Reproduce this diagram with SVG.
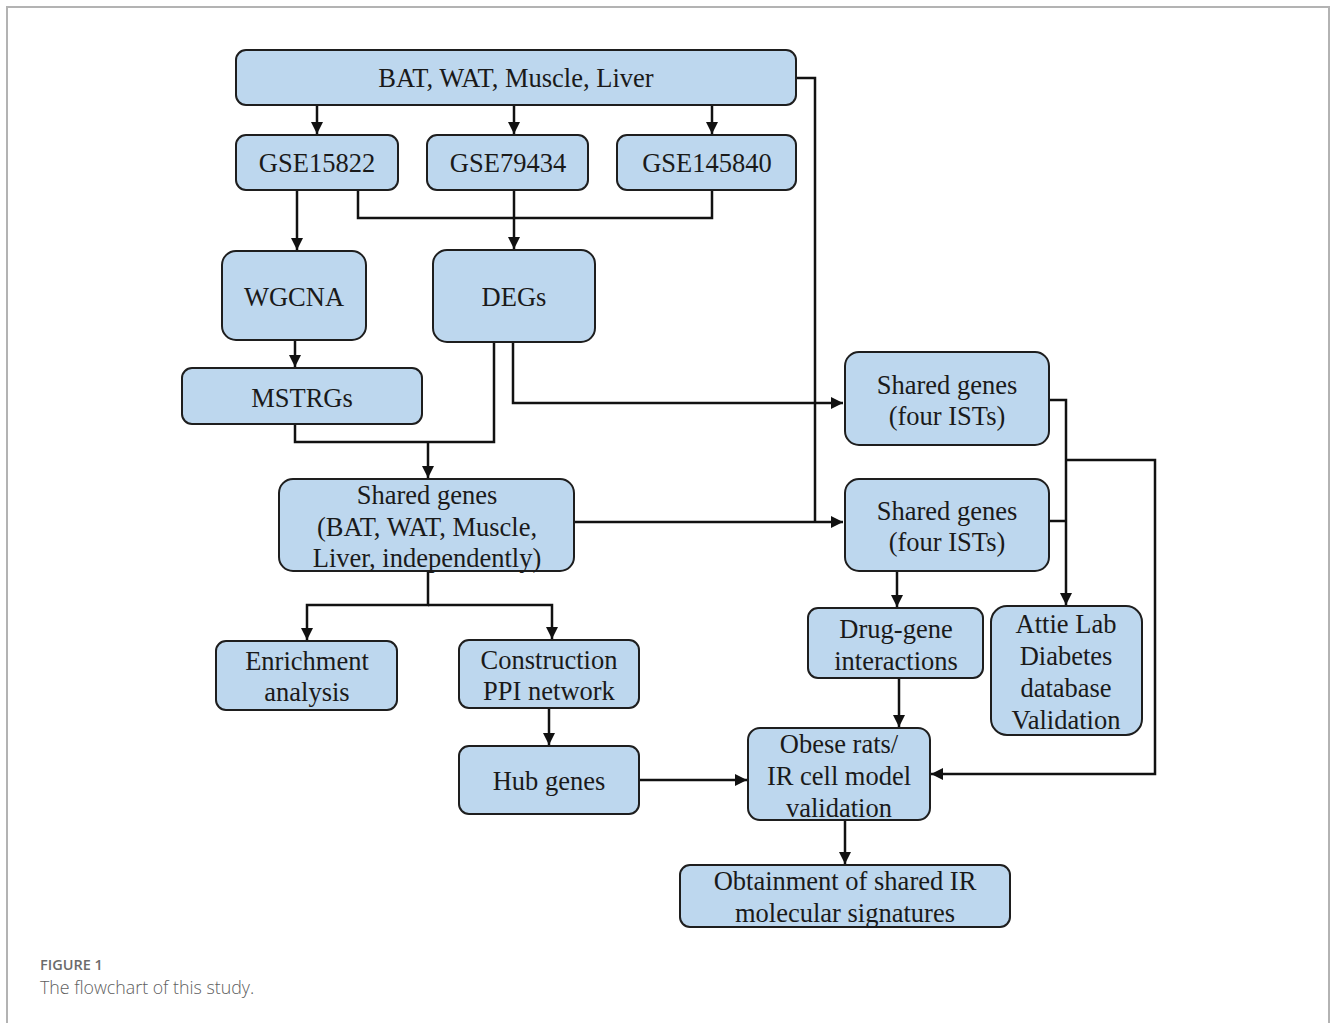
<svg xmlns="http://www.w3.org/2000/svg" width="1330" height="1023" viewBox="0 0 1330 1023">
<style>
.n rect{fill:#bdd7ee;stroke:#1e1e1e;stroke-width:2}
.n text{font-family:"Liberation Serif","Times New Roman",serif;font-size:26.5px;fill:#1a1a1a;text-anchor:middle}
.c path{fill:none;stroke:#111;stroke-width:2.5}
.frame{stroke:#b3b3b3;stroke-width:2;fill:none}
.cap1{font-family:"Open Sans","Noto Sans",sans-serif;font-size:14.5px;font-weight:600;fill:#6b6b6b}
.cap2{font-family:"Open Sans","Noto Sans",sans-serif;font-size:17.8px;font-weight:300;fill:#606060}
</style>
<defs>
<marker id="ah" markerUnits="userSpaceOnUse" markerWidth="13" markerHeight="13" refX="12" refY="6.5" orient="auto">
<path d="M0,0.5 L12,6.5 L0,12.5 z" fill="#111"/>
</marker>
</defs>
<rect width="1330" height="1023" fill="#fff"/>
<path class="frame" d="M7,1023 V7 H1329 V1023"/>

<g class="c">
<path d="M317,105 V134" marker-end="url(#ah)"/>
<path d="M514,105 V134" marker-end="url(#ah)"/>
<path d="M712,105 V134" marker-end="url(#ah)"/>
<path d="M297,190 V250" marker-end="url(#ah)"/>
<path d="M358,190 V218 H712 V190"/>
<path d="M514,190 V249" marker-end="url(#ah)"/>
<path d="M295,340 V367" marker-end="url(#ah)"/>
<path d="M295,424 V442 H494 V342"/>
<path d="M428,442 V478" marker-end="url(#ah)"/>
<path d="M513,342 V403 H843" marker-end="url(#ah)"/>
<path d="M796,78 H815 V522"/>
<path d="M574,522 H843" marker-end="url(#ah)"/>
<path d="M1049,400 H1066 V605" marker-end="url(#ah)"/>
<path d="M1049,521 H1066"/>
<path d="M1066,460 H1155 V774 H931" marker-end="url(#ah)"/>
<path d="M897,571 V607" marker-end="url(#ah)"/>
<path d="M899,678 V727" marker-end="url(#ah)"/>
<path d="M428,571 V605 H307 V640" marker-end="url(#ah)"/>
<path d="M428,605 H552 V639" marker-end="url(#ah)"/>
<path d="M549,708 V745" marker-end="url(#ah)"/>
<path d="M639,780 H747" marker-end="url(#ah)"/>
<path d="M845,820 V864" marker-end="url(#ah)"/>
</g>

<g id="n-top" class="n"><rect x="236" y="50" width="560" height="55" rx="10"/><text x="516" y="87">BAT, WAT, Muscle, Liver</text></g>
<g id="n-gse15822" class="n"><rect x="236" y="135" width="162" height="55" rx="10"/><text x="317" y="172">GSE15822</text></g>
<g id="n-gse79434" class="n"><rect x="427" y="135" width="161" height="55" rx="10"/><text x="508" y="172">GSE79434</text></g>
<g id="n-gse145840" class="n"><rect x="617" y="135" width="179" height="55" rx="10"/><text x="707" y="172">GSE145840</text></g>
<g id="n-wgcna" class="n"><rect x="222" y="251" width="144" height="89" rx="14"/><text x="294" y="306">WGCNA</text></g>
<g id="n-degs" class="n"><rect x="433" y="250" width="162" height="92" rx="14"/><text x="514" y="306">DEGs</text></g>
<g id="n-mstrgs" class="n"><rect x="182" y="368" width="240" height="56" rx="10"/><text x="302" y="407">MSTRGs</text></g>
<g id="n-shared1" class="n"><rect x="845" y="352" width="204" height="93" rx="14"/><text x="947" y="394">Shared genes</text><text x="947" y="425">(four ISTs)</text></g>
<g id="n-shared2" class="n"><rect x="845" y="479" width="204" height="92" rx="14"/><text x="947" y="520">Shared genes</text><text x="947" y="551">(four ISTs)</text></g>
<g id="n-sharedbat" class="n"><rect x="279" y="479" width="295" height="92" rx="14"/><text x="427" y="504">Shared genes</text><text x="427" y="536">(BAT, WAT, Muscle,</text><text x="427" y="567">Liver, independently)</text></g>
<g id="n-enrich" class="n"><rect x="216" y="641" width="181" height="69" rx="10"/><text x="307" y="670">Enrichment</text><text x="307" y="701">analysis</text></g>
<g id="n-ppi" class="n"><rect x="459" y="640" width="180" height="68" rx="10"/><text x="549" y="669">Construction</text><text x="549" y="700">PPI network</text></g>
<g id="n-hub" class="n"><rect x="459" y="746" width="180" height="68" rx="10"/><text x="549" y="790">Hub genes</text></g>
<g id="n-drug" class="n"><rect x="808" y="608" width="175" height="70" rx="10"/><text x="896" y="638">Drug-gene</text><text x="896" y="670">interactions</text></g>
<g id="n-attie" class="n"><rect x="991" y="606" width="151" height="129" rx="16"/><text x="1066" y="633">Attie Lab</text><text x="1066" y="665">Diabetes</text><text x="1066" y="697">database</text><text x="1066" y="729">Validation</text></g>
<g id="n-obese" class="n"><rect x="748" y="728" width="182" height="92" rx="12"/><text x="839" y="753">Obese rats/</text><text x="839" y="785">IR cell model</text><text x="839" y="817">validation</text></g>
<g id="n-obtain" class="n"><rect x="680" y="865" width="330" height="62" rx="10"/><text x="845" y="890">Obtainment of shared IR</text><text x="845" y="922">molecular signatures</text></g>

<text class="cap1" x="40" y="970">FIGURE 1</text>
<text class="cap2" x="40" y="994">The flowchart of this study.</text>
</svg>
